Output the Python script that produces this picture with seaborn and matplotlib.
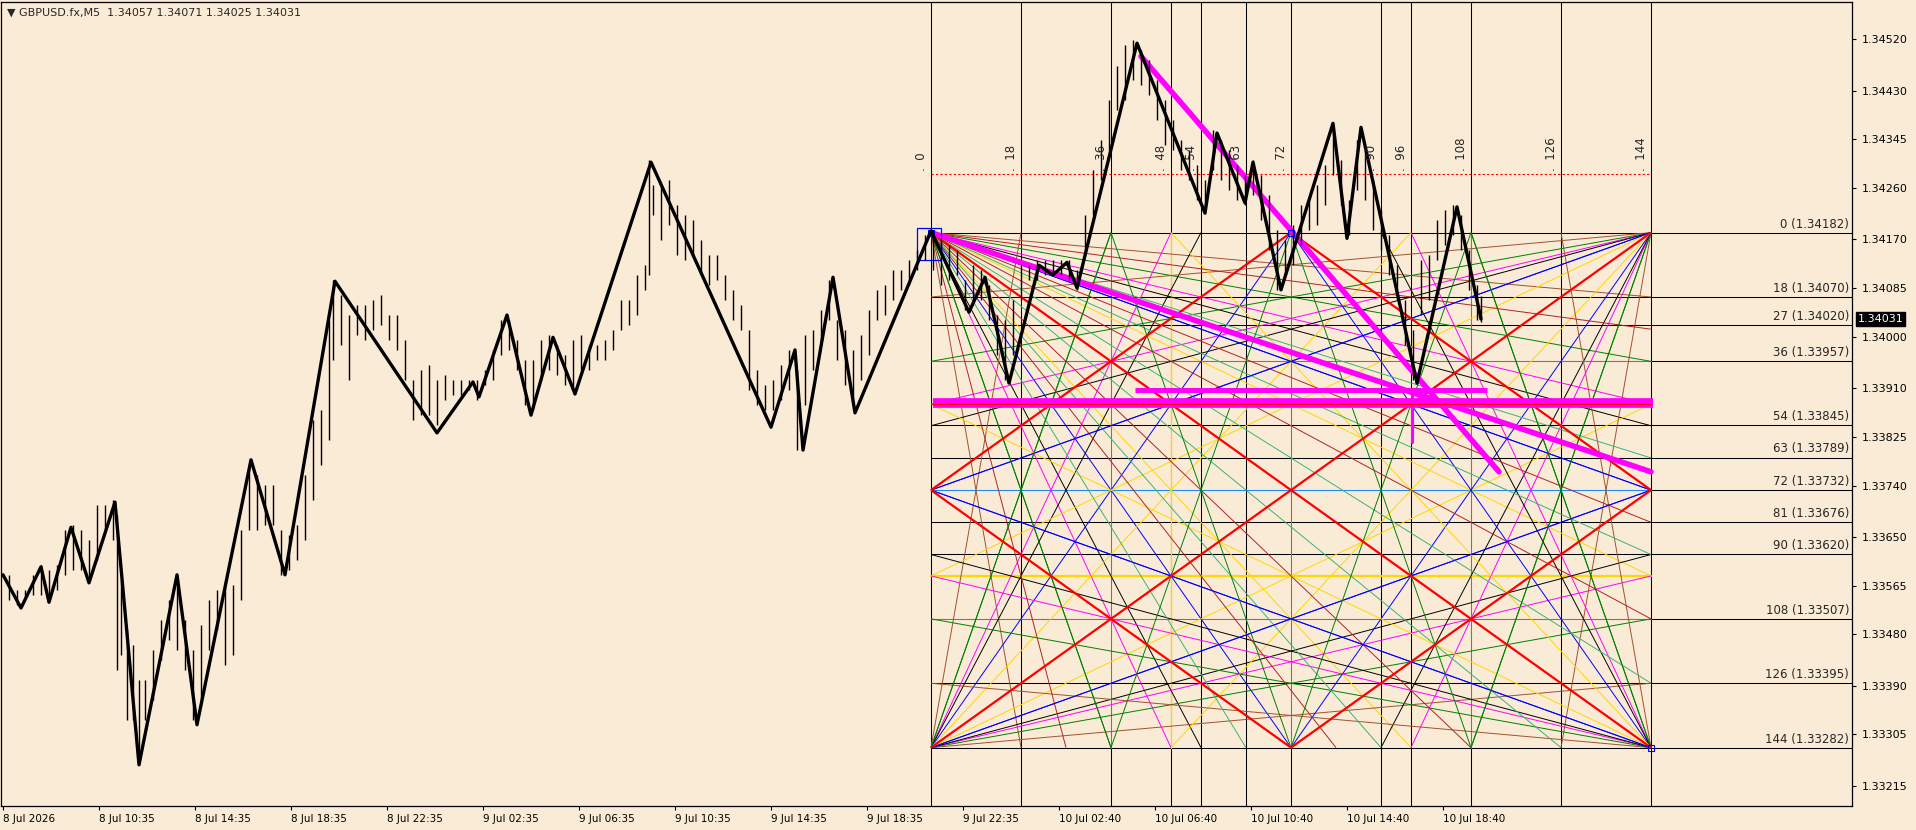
import matplotlib
matplotlib.use('Agg')
import matplotlib.pyplot as plt
import matplotlib.patches as mpatches
import seaborn as sns

# MT4 style chart colours
BG = '#FAEBD7'

# ---- M5 bars (bar number, high, low) ----
bar_idx = [4, 8, 12, 16, 20, 24, 28, 32, 36, 40, 44, 48, 52, 56, 58, 60, 63, 66, 69, 72,
           76, 80, 84, 88, 92, 96, 100, 104, 108, 112, 116, 120, 124, 128, 132, 136, 140, 144, 148, 152,
           156, 160, 164, 166, 170, 174, 178, 182, 186, 190, 194, 198, 202, 206, 210, 214, 218, 222, 226, 230,
           234, 238, 242, 246, 250, 254, 258, 262, 266, 270, 274, 278, 282, 286, 290, 294, 298, 302, 306, 310,
           314, 318, 322, 324, 326, 330, 334, 338, 342, 346, 350, 354, 358, 362, 366, 370, 374, 378, 382, 386,
           390, 394, 398, 402, 406, 410, 414, 418, 422, 426, 430, 434, 438, 442, 446, 450, 454, 458, 462, 466,
           470, 474, 478, 482, 486, 490, 494, 498, 502, 506, 510, 514, 518, 522, 526, 530, 534, 538, 542, 546,
           550, 554, 558, 562, 566, 570, 574, 578, 582, 586, 590, 594, 598, 602, 606, 610, 614, 618, 622, 626,
           630, 634, 638, 642, 646, 650, 654, 658, 662, 666, 670, 674, 678, 682, 686, 690, 694, 698, 702, 706,
           710, 714, 718, 722, 726, 730, 734, 738, 740]
bar_high = [1.33584, 1.33557, 1.33557, 1.33584, 1.33601, 1.33592, 1.33601, 1.33662, 1.33671, 1.33662,
            1.33645, 1.33706, 1.33706, 1.33715, 1.33688, 1.33575, 1.33488, 1.33461, 1.33400, 1.33400,
            1.33453, 1.33505, 1.33540, 1.33584, 1.33505, 1.33453, 1.33496, 1.33540, 1.33557, 1.33566,
            1.33566, 1.33662, 1.33776, 1.33758, 1.33741, 1.33741, 1.33662, 1.33653, 1.33671, 1.33758,
            1.33854, 1.33872, 1.34029, 1.34099, 1.34073, 1.34038, 1.34055, 1.34055, 1.34064, 1.34073,
            1.34038, 1.34038, 1.33994, 1.33924, 1.33942, 1.33951, 1.33924, 1.33933, 1.33924, 1.33924,
            1.33924, 1.33924, 1.33942, 1.33977, 1.34029, 1.34029, 1.33994, 1.33959, 1.33959, 1.33994,
            1.34003, 1.33986, 1.33968, 1.33994, 1.34003, 1.33986, 1.33986, 1.33994, 1.34012, 1.34064,
            1.34064, 1.34108, 1.34125, 1.34309, 1.34265, 1.34265, 1.34274, 1.34230, 1.34213, 1.34204,
            1.34169, 1.34143, 1.34143, 1.34108, 1.34082, 1.34055, 1.34012, 1.33942, 1.33916, 1.33924,
            1.33951, 1.33977, 1.33942, 1.34003, 1.34012, 1.34047, 1.34099, 1.34029, 1.34012, 1.33977,
            1.34003, 1.34047, 1.34082, 1.34090, 1.34117, 1.34117, 1.34134, 1.34151, 1.34178, 1.34186,
            1.34169, 1.34160, 1.34151, 1.34099, 1.34125, 1.34117, 1.34090, 1.34038, 1.34029, 1.34064,
            1.34125, 1.34125, 1.34134, 1.34134, 1.34134, 1.34134, 1.34134, 1.34117, 1.34213, 1.34291,
            1.34344, 1.34413, 1.34474, 1.34509, 1.34518, 1.34501, 1.34483, 1.34448, 1.34413, 1.34379,
            1.34344, 1.34326, 1.34300, 1.34274, 1.34361, 1.34344, 1.34326, 1.34300, 1.34283, 1.34309,
            1.34283, 1.34248, 1.34186, 1.34169, 1.34195, 1.34230, 1.34239, 1.34265, 1.34300, 1.34370,
            1.34309, 1.34239, 1.34344, 1.34326, 1.34274, 1.34222, 1.34178, 1.34125, 1.34064, 1.34012,
            1.34134, 1.34143, 1.34204, 1.34222, 1.34230, 1.34213, 1.34151, 1.34090, 1.34071]
bar_low = [1.33540, 1.33531, 1.33540, 1.33549, 1.33549, 1.33540, 1.33557, 1.33584, 1.33592, 1.33592,
           1.33575, 1.33610, 1.33662, 1.33645, 1.33418, 1.33444, 1.33330, 1.33330, 1.33252, 1.33330,
           1.33365, 1.33435, 1.33470, 1.33453, 1.33418, 1.33330, 1.33365, 1.33453, 1.33488, 1.33427,
           1.33444, 1.33540, 1.33662, 1.33662, 1.33671, 1.33671, 1.33584, 1.33592, 1.33610, 1.33645,
           1.33715, 1.33776, 1.33820, 1.33959, 1.33986, 1.33924, 1.34003, 1.33994, 1.34012, 1.34021,
           1.33994, 1.33977, 1.33924, 1.33854, 1.33863, 1.33863, 1.33846, 1.33889, 1.33898, 1.33898,
           1.33907, 1.33889, 1.33916, 1.33924, 1.33968, 1.33977, 1.33942, 1.33881, 1.33872, 1.33924,
           1.33942, 1.33933, 1.33916, 1.33907, 1.33942, 1.33942, 1.33959, 1.33959, 1.33977, 1.34012,
           1.34021, 1.34038, 1.34082, 1.34108, 1.34213, 1.34169, 1.34195, 1.34143, 1.34134, 1.34143,
           1.34108, 1.34090, 1.34099, 1.34064, 1.34029, 1.34012, 1.33907, 1.33881, 1.33872, 1.33872,
           1.33889, 1.33907, 1.33802, 1.33881, 1.33942, 1.33986, 1.34029, 1.33959, 1.33916, 1.33889,
           1.33924, 1.33968, 1.34029, 1.34038, 1.34064, 1.34082, 1.34090, 1.34117, 1.34134, 1.34117,
           1.34090, 1.34099, 1.34108, 1.34047, 1.34064, 1.34064, 1.34029, 1.33968, 1.33924, 1.33968,
           1.34064, 1.34099, 1.34099, 1.34108, 1.34108, 1.34108, 1.34099, 1.34082, 1.34143, 1.34213,
           1.34274, 1.34326, 1.34396, 1.34413, 1.34448, 1.34440, 1.34422, 1.34379, 1.34335, 1.34326,
           1.34291, 1.34274, 1.34239, 1.34222, 1.34291, 1.34274, 1.34257, 1.34239, 1.34230, 1.34248,
           1.34204, 1.34151, 1.34082, 1.34108, 1.34125, 1.34160, 1.34186, 1.34195, 1.34230, 1.34283,
           1.34230, 1.34178, 1.34257, 1.34239, 1.34186, 1.34151, 1.34108, 1.34064, 1.33986, 1.33924,
           1.34038, 1.34064, 1.34134, 1.34160, 1.34178, 1.34151, 1.34082, 1.34029, 1.34025]

# ---- ZigZag swing points ----
zz_idx = [1, 10, 20, 24, 35, 44, 57, 69, 88, 98, 125, 142, 167, 218, 236, 239, 253, 265, 276, 287,
          325, 385, 397, 401, 416, 427, 465, 484, 492, 504, 519, 526, 533, 538, 568, 602, 608, 622, 626, 640,
          666, 673, 680, 708, 728, 740]
zz_price = [1.33584, 1.33526, 1.33598, 1.33536, 1.33667, 1.33570, 1.33711, 1.33252, 1.33584, 1.33322,
            1.33785, 1.33584, 1.34097, 1.33832, 1.33921, 1.33895, 1.34038, 1.33863, 1.33999, 1.33900,
            1.34305, 1.33842, 1.33977, 1.33802, 1.34104, 1.33867, 1.34185, 1.34043, 1.34104, 1.33919,
            1.34125, 1.34108, 1.34130, 1.34085, 1.34513, 1.34216, 1.34356, 1.34234, 1.34305, 1.34082,
            1.34373, 1.34172, 1.34366, 1.33919, 1.34227, 1.34031]

# ---- axes ----
time_tick_bars = [1, 49, 97, 145, 193, 241, 289, 337, 385, 433, 481, 529, 577, 625, 673, 721]
time_labels = ['8 Jul 2026', '8 Jul 10:35', '8 Jul 14:35', '8 Jul 18:35', '8 Jul 22:35', '9 Jul 02:35',
               '9 Jul 06:35', '9 Jul 10:35', '9 Jul 14:35', '9 Jul 18:35', '9 Jul 22:35', '10 Jul 02:40',
               '10 Jul 06:40', '10 Jul 10:40', '10 Jul 14:40', '10 Jul 18:40']
price_ticks = [1.34520, 1.34430, 1.34345, 1.34260, 1.34170, 1.34085, 1.34000, 1.33910,
               1.33825, 1.33740, 1.33650, 1.33565, 1.33480, 1.33390, 1.33305, 1.33215]
last_price = 1.34031

# ---- Gann square ----
gann_start_bar = 465
gann_bar_step = 2.5
gann_top = 1.34182
gann_price_step = 0.0000625
gann_levels = [0, 18, 27, 36, 54, 63, 72, 81, 90, 108, 126, 144]
gann_level_prices = [1.34182, 1.34070, 1.34020, 1.33957, 1.33845, 1.33789, 1.33732,
                     1.33676, 1.33620, 1.33507, 1.33395, 1.33282]
gann_times = [0, 18, 36, 48, 54, 63, 72, 90, 96, 108, 126, 144]
gann_dotted_price = 1.34284
gann_label_price = 1.34290
fan_steps = [18, 36, 48, 54, 72, 96]
fan_colors = ['#A0522D', '#008000', '#FF00FF', '#000000', '#0000FF', '#FFD700']
origin_steps = [27, 63, 81, 90, 108, 126]
origin_colors = ['#B22222', '#3CB371', '#B22222', '#3CB371', '#B22222', '#3CB371']

# user trend lines (bar, price)
trend_a = ([465, 825], [1.34182, 1.33764])
trend_b = ([570, 749], [1.34490, 1.33764])
band_wide = ([466, 826], 1.33884)
band_short = ([567, 743], 1.33907)
stub = (705.5, [1.33907, 1.33816])
origin_box = (458, 1.34135, 12, 0.00055)

sns.set_theme(style='white')
plt.rcParams['font.family'] = ['DejaVu Sans']

fig = plt.figure(figsize=(19.16, 8.30), dpi=100, facecolor=BG)
ax = fig.add_axes([1 / 1916, 24 / 830, 1851 / 1916, 804 / 830])
ax.set_facecolor(BG)
ax.set_xlim(0, 925.5)
ax.set_ylim(1.33180, 1.34585)


def gx(u):
    return gann_start_bar + u * gann_bar_step


def gy(v):
    return gann_top - v * gann_price_step


def seg(u1, v1, u2, v2, color, lw=0.7, z=2):
    ax.plot([gx(u1), gx(u2)], [gy(v1), gy(v2)], color=color, lw=lw, zorder=z,
            solid_capstyle='butt')


# grid of the square
for t in gann_times:
    ax.axvline(gx(t), color='black', lw=0.75, zorder=1)
ax.hlines(gann_level_prices, gx(0), 925.5, color='black', lw=0.75, zorder=1)
for t in [36, 72, 108]:
    ax.plot([gx(t), gx(t)], [gy(0), gy(144)], color='#1E90FF', lw=0.7, zorder=1.5)
    ax.plot([gx(0), gx(144)], [gy(t), gy(t)], color='#1E90FF', lw=0.7, zorder=1.5)
ax.plot([gx(48), gx(48)], [gy(0), gy(144)], color='#FFD700', lw=0.9, zorder=1.5)
ax.plot([gx(0), gx(144)], [gy(96), gy(96)], color='#FFD700', lw=1.6, zorder=1.5)
ax.hlines(gann_dotted_price, gx(0), gx(144), colors='red', lw=0.8,
          linestyles=(0, (2, 2)), zorder=1.5)

# corner fans
for cu, cv in [(0, 0), (0, 144), (144, 0), (144, 144)]:
    du = 1 if cu == 0 else -1
    dv = 1 if cv == 0 else -1
    for s, c in zip(fan_steps, fan_colors):
        seg(cu, cv, cu + du * 144, cv + dv * s, c)
        seg(cu, cv, cu + du * s, cv + dv * 144, c)
for s, c in zip(origin_steps, origin_colors):
    seg(0, 0, 144, s, c)
    seg(0, 0, s, 144, c)
# mid edge fans
seg(0, 72, 144, 0, '#0000FF')
seg(0, 72, 144, 144, '#0000FF')
seg(144, 72, 0, 0, '#0000FF')
seg(144, 72, 0, 144, '#0000FF')
for t in [0, 36, 72, 108, 144]:
    for b in [t - 36, t + 36]:
        if 0 <= b <= 144:
            seg(t, 0, b, 144, '#008000')
# 1x1 diagonals and diamond
for u1, v1, u2, v2 in [(0, 0, 144, 144), (0, 144, 144, 0), (0, 72, 72, 0),
                       (72, 0, 144, 72), (144, 72, 72, 144), (72, 144, 0, 72)]:
    seg(u1, v1, u2, v2, '#FF0000', lw=1.6, z=3)

# magenta user objects
ax.plot(band_wide[0], [band_wide[1]] * 2, color='#FF00FF', lw=7, zorder=4, solid_capstyle='butt')
ax.plot([gx(0), gx(144)], [gy(48), gy(48)], color='#FF0000', lw=0.8, zorder=4.1)
ax.plot(band_short[0], [band_short[1]] * 2, color='#FF00FF', lw=3.6, zorder=4, solid_capstyle='butt')
ax.plot(trend_a[0], trend_a[1], color='#FF00FF', lw=4, zorder=4)
ax.plot(trend_b[0], trend_b[1], color='#FF00FF', lw=4, zorder=4)
ax.plot([stub[0], stub[0]], stub[1], color='#FF00FF', lw=2.2, zorder=4)
ax.add_patch(mpatches.Rectangle((origin_box[0], origin_box[1]), origin_box[2], origin_box[3],
                                fill=False, ec='#0000FF', lw=0.9, zorder=5))
ax.plot([gx(0), gx(72), gx(144)], [gy(0), gy(0), gy(144)], ls='none', marker='s', ms=4,
        mfc='none', mec='#0000FF', mew=0.8, zorder=5)

# price bars and zigzag
ax.vlines(bar_idx, bar_low, bar_high, color='black', lw=1.0, zorder=5)
sns.lineplot(x=zz_idx, y=zz_price, sort=False, estimator=None, color='black', lw=2.4,
             ax=ax, zorder=6)

# labels of the square
for lvl, p in zip(gann_levels, gann_level_prices):
    ax.annotate(f'{lvl} ({p:.5f})', xy=(1, p), xycoords=('axes fraction', 'data'),
                xytext=(-2, 1.5), textcoords='offset points', ha='right', va='bottom',
                fontsize=8.5, zorder=7)
for t in gann_times:
    ax.annotate(f'.  {t}', xy=(gx(t), gann_label_price), xytext=(-6.5, 0),
                textcoords='offset points', rotation=90, ha='center', va='bottom',
                fontsize=8.5, zorder=7)

# axes styling
for sp in ax.spines.values():
    sp.set_color('black')
    sp.set_linewidth(0.9)
ax.yaxis.tick_right()
ax.set_yticks(price_ticks)
ax.set_yticklabels([f'{p:.5f}' for p in price_ticks])
ax.set_xticks(time_tick_bars)
ax.set_xticklabels(time_labels, ha='left')
ax.tick_params(axis='y', which='major', right=True, left=False, length=3, width=0.8,
               direction='out', labelsize=8, pad=4, colors='black')
ax.tick_params(axis='x', which='major', bottom=True, length=3, width=0.8, direction='out',
               labelsize=7.5, pad=3, colors='black')
ax.grid(False)
ax.set_xlabel('')
ax.set_ylabel('')

ax.annotate(f'{last_price:.5f}', xy=(1, last_price), xycoords=('axes fraction', 'data'),
            xytext=(4, 0), textcoords='offset points', ha='left', va='center', fontsize=8,
            color='white', bbox=dict(boxstyle='square,pad=0.15', fc='black', ec='black'),
            annotation_clip=False, zorder=8)

fig.text(7 / 1916, 1 - 13 / 830, '\u25bc GBPUSD.fx,M5  1.34057 1.34071 1.34025 1.34031',
         fontsize=8, va='center', ha='left')

fig.savefig('out.png', dpi=100, facecolor=BG)
